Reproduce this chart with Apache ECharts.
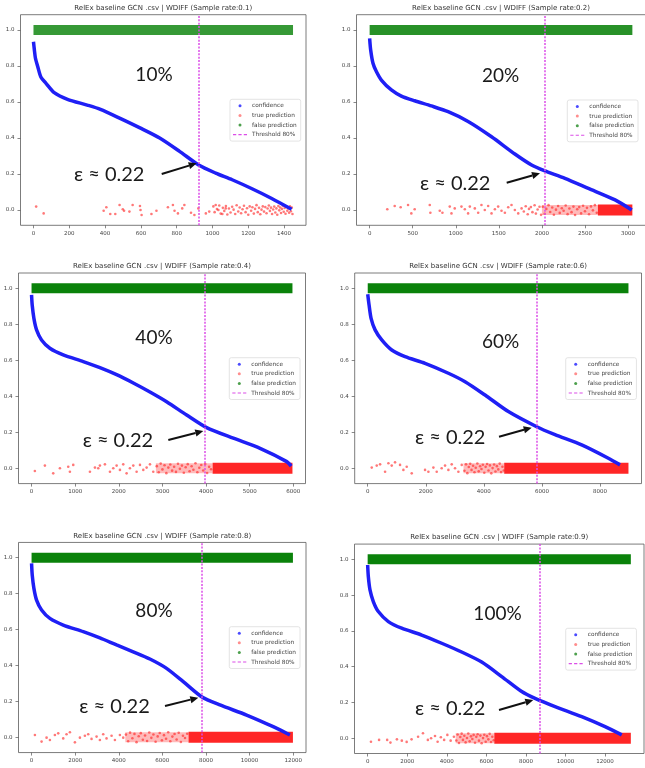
<!DOCTYPE html>
<html><head><meta charset="utf-8">
<script src="https://cdn.jsdelivr.net/npm/echarts@6/dist/echarts.min.js"></script>
<style>html,body{margin:0;padding:0;background:#fff}#c{width:645px;height:768px}</style>
</head><body><div id="c"></div><script>
// ---------------- DATA ----------------
const titles = [
  'RelEx baseline GCN .csv | WDIFF (Sample rate:0.1)',
  'RelEx baseline GCN .csv | WDIFF (Sample rate:0.2)',
  'RelEx baseline GCN .csv | WDIFF (Sample rate:0.4)',
  'RelEx baseline GCN .csv | WDIFF (Sample rate:0.6)',
  'RelEx baseline GCN .csv | WDIFF (Sample rate:0.8)',
  'RelEx baseline GCN .csv | WDIFF (Sample rate:0.9)'
];
const sampleCounts = [1450, 3050, 5980, 8980, 11990, 13300];
const thresholds = [925, 2030, 3960, 5820, 7800, 8680];
const pctLabels = ['10%', '20%', '40%', '60%', '80%', '100%'];
const epsLabel = 'ε ≈ 0.22';
const legendNames = ['confidence', 'true prediction', 'false prediction', 'Threshold 80%'];
const xTicks = [
  [0, 200, 400, 600, 800, 1000, 1200, 1400],
  [0, 500, 1000, 1500, 2000, 2500, 3000],
  [0, 1000, 2000, 3000, 4000, 5000, 6000],
  [0, 2000, 4000, 6000, 8000],
  [0, 2000, 4000, 6000, 8000, 10000, 12000],
  [0, 2000, 4000, 6000, 8000, 10000, 12000, 14000]
];
const yTicks = [0, 0.2, 0.4, 0.6, 0.8, 1.0];

// confidence curves (sorted confidence vs index)
const conf10 = [[0,0.935],[5,0.889],[11,0.843],[24,0.796],[42,0.737],[70,0.704],[116,0.652],[190,0.615],[300,0.583],[374,0.559],[484,0.509],[595,0.456],[705,0.40],[816,0.326],[923,0.25],[1018,0.205],[1110,0.168],[1221,0.118],[1331,0.064],[1442,0.004]];
const conf20 = [[0,0.954],[12,0.889],[39,0.815],[78,0.769],[136,0.722],[252,0.667],[368,0.633],[523,0.607],[717,0.578],[911,0.546],[1143,0.492],[1415,0.407],[1686,0.311],[1880,0.25],[2027,0.219],[2267,0.176],[2539,0.12],[2849,0.056],[3043,0.0]];
const conf40 = [[0,0.963],[15,0.907],[54,0.833],[115,0.769],[229,0.713],[420,0.667],[726,0.63],[1185,0.593],[1567,0.559],[1950,0.52],[2332,0.474],[2714,0.424],[3096,0.37],[3555,0.296],[4014,0.226],[4625,0.167],[5237,0.111],[5849,0.037],[5950,0.012]];
const conf60 = [[0,0.967],[46,0.907],[115,0.833],[253,0.769],[482,0.713],[826,0.657],[1286,0.62],[1974,0.583],[2778,0.528],[3352,0.481],[4040,0.407],[4844,0.315],[5819,0.231],[6450,0.187],[7369,0.13],[8287,0.056],[8689,0.019]];
const conf80 = [[0,0.968],[31,0.903],[107,0.829],[229,0.764],[459,0.709],[841,0.662],[1453,0.625],[2370,0.588],[3134,0.553],[3899,0.514],[4663,0.476],[5428,0.436],[6192,0.384],[6957,0.31],[7798,0.226],[8639,0.18],[9862,0.124],[11085,0.059],[11850,0.013]];
const conf100 = [[0,0.968],[34,0.903],[118,0.829],[286,0.764],[539,0.708],[1045,0.652],[1719,0.615],[2730,0.577],[3741,0.531],[4752,0.482],[5763,0.426],[6774,0.345],[7785,0.261],[8459,0.223],[9470,0.177],[10818,0.121],[11997,0.065],[12840,0.019]];

// true predictions (individually visible points near 0)
const true10 = [[15,0.019],[57,-0.019],[392,-0.004],[407,0.015],[429,-0.022],[457,-0.022],[481,0.028],[499,0.004],[506,-0.004],[536,-0.009],[554,0.028],[595,0.022],[598,0],[604,-0.028],[659,-0.022],[687,-0.004],[751,0.015],[779,0.028],[788,-0.004],[807,-0.019],[831,0.009],[843,0.028],[880,-0.015],[899,-0.028],[921,0.009],[963,-0.019],[982,-0.009],
  [1005,0.02],[1012,-0.012],[1018,0.028],[1025,0.005],[1033,0],[1038,0.025],[1046,-0.02],[1055,-0.022],[1058,0.012],[1066,-0.005],[1074,0.009],[1075,0.022],[1083,-0.025],[1092,0.008],[1101,-0.014],[1110,0.018],[1118,0.002],[1127,-0.022],[1135,0.026],[1144,-0.008],[1152,0.014],[1160,-0.018],[1168,0.004],[1176,0.024],[1185,-0.012],[1193,0.01],[1200,-0.026],[1208,0.02],[1216,-0.004],[1223,0.015],[1231,-0.02],[1238,0.006],[1246,0.027],[1253,-0.012],[1260,0.012],[1267,-0.024],[1274,0.002],[1281,0.02],[1288,-0.009],[1295,0.016],[1302,-0.018],[1308,0.008],[1315,0.025],[1321,-0.005],[1327,0.013],[1333,-0.022],[1339,0.003],[1345,0.019],[1351,-0.014],[1357,0.009],[1362,-0.026],[1368,0.022],[1373,-0.002],[1378,0.014],[1383,-0.017],[1388,0.006],[1393,0.024],[1398,-0.01],[1403,0.011],[1408,-0.021],[1413,0.017],[1418,-0.004],[1423,0.008],[1428,-0.015],[1433,0.02],[1438,-0.007],[1443,0.013],[1447,-0.022]];
const true20 = [[205,0.004],[291,0.022],[360,0.015],[446,0.028],[484,-0.019],[523,0.004],[698,0.028],[705,-0.015],[814,-0.004],[845,-0.015],[930,0.019],[950,-0.019],[988,0.009],[1066,0.019],[1105,0.004],[1143,-0.019],[1163,0.019],[1221,0.009],[1260,-0.015],[1298,0.028],[1337,0],[1376,0.022],[1415,-0.019],[1454,0.004],[1492,0.019],[1531,-0.004],[1570,-0.015],[1609,0.015],[1647,0.028],[1686,0],[1725,-0.019],[1764,0.009],[1790,-0.008],[1812,0.021],[1835,-0.024],[1850,0.006],[1872,0.016],[1890,-0.012],[1915,0.026],[1930,-0.02],[1950,0.003],[1972,0.018],[1990,-0.027],
  [2010,0.018],[2032,-0.021],[2051,0.006],[2077,0.027],[2096,-0.011],[2120,0.014],[2139,-0.026],[2163,0.002],[2188,0.022],[2207,-0.016],[2231,0.01],[2252,-0.004],[2276,0.025],[2298,-0.023],[2319,0.008],[2344,-0.012],[2366,0.019],[2385,-0.028],[2410,0.004],[2433,0.016],[2455,-0.019],[2478,0.024],[2500,-0.007],[2523,0.012],[2547,-0.024],[2570,0.02],[2592,-0.002],[2615,0.027],[2637,-0.015]];
const true40 = [[76,-0.015],[306,0.015],[497,-0.028],[650,0],[841,0.009],[879,-0.019],[956,0.019],[1338,-0.019],[1453,0.004],[1529,0],[1567,0.015],[1682,0.022],[1797,-0.019],[1873,0],[1950,0.015],[2026,-0.009],[2102,0.022],[2179,-0.028],[2255,0],[2332,0.015],[2408,-0.019],[2485,0.019],[2561,-0.009],[2638,0.004],[2714,0.022],[2790,-0.019],
  [2870,0.012],[2915,-0.022],[2960,0.026],[3000,-0.006],[3048,0.017],[3090,-0.027],[3135,0.004],[3180,0.021],[3222,-0.013],[3268,0.009],[3310,-0.02],[3356,0.025],[3400,-0.003],[3447,0.015],[3490,-0.025],[3533,0.006],[3580,0.023],[3622,-0.016],[3668,0.011],[3710,-0.008],[3757,0.028],[3800,-0.022],[3845,0.003],[3890,0.018],[3935,-0.012],[3980,0.024],[4025,-0.026],[4070,0.008],[4115,-0.005]];
const true60 = [[138,0.004],[310,0.015],[425,0.022],[597,-0.019],[712,0.028],[826,0.015],[941,0.033],[1113,0.019],[1228,-0.009],[1343,0.009],[1515,-0.028],[1974,-0.009],[2089,-0.019],[2261,0.004],[2376,-0.019],[2547,0],[2663,0.015],[2778,-0.009],[2892,0.022],[3007,0],[3122,-0.019],[3237,0.019],
  [3330,-0.014],[3385,0.022],[3430,-0.027],[3480,0.007],[3530,0.025],[3575,-0.009],[3628,0.014],[3676,-0.022],[3720,0.003],[3775,0.027],[3822,-0.017],[3870,0.011],[3918,-0.004],[3965,0.02],[4015,-0.025],[4060,0.008],[4112,0.024],[4160,-0.012],[4208,0.016],[4255,-0.028],[4300,0.001],[4352,0.021],[4400,-0.018],[4448,0.012],[4497,-0.006],[4545,0.026],[4592,-0.021],[4640,0.009],[4685,-0.012]];
const true80 = [[153,0.013],[459,-0.024],[688,-0.002],[841,-0.015],[1070,0.013],[1223,0.022],[1453,-0.006],[1605,0.017],[1758,0.028],[1988,-0.028],[2217,-0.002],[2446,0.009],[2599,0.017],[2752,-0.009],[2982,0.004],[3134,-0.015],[3287,0.017],[3440,-0.006],[3670,0.009],[3823,-0.015],[4052,0.013],[4205,-0.002],
  [4330,0.015],[4430,-0.022],[4520,0.026],[4625,-0.005],[4720,0.019],[4815,-0.027],[4915,0.006],[5010,0.023],[5105,-0.014],[5205,0.01],[5300,-0.021],[5400,0.027],[5495,-0.003],[5590,0.016],[5690,-0.025],[5785,0.005],[5880,0.024],[5980,-0.017],[6075,0.012],[6170,-0.008],[6270,0.028],[6365,-0.022],[6460,0.004],[6560,0.018],[6655,-0.012],[6750,0.025],[6850,-0.026],[6945,0.009],[7040,-0.004],[7140,0.02]];
const true100 = [[167,-0.019],[577,-0.009],[986,-0.009],[1152,-0.024],[1479,-0.006],[1726,-0.013],[1972,-0.02],[2219,-0.006],[2549,0.009],[2795,0.028],[3042,-0.009],[3206,0],[3403,0.013],[3535,-0.019],[3700,0.006],[3865,-0.009],[4028,0.019],[4193,-0.013],[4358,0.009],
  [4480,-0.012],[4545,0.021],[4615,-0.026],[4680,0.007],[4750,0.026],[4815,-0.009],[4885,0.014],[4950,-0.023],[5020,0.002],[5085,0.027],[5155,-0.017],[5220,0.011],[5290,-0.004],[5355,0.019],[5425,-0.025],[5490,0.008],[5560,0.023],[5625,-0.013],[5695,0.015],[5760,-0.028],[5830,0.001],[5895,0.02],[5965,-0.019],[6030,0.012],[6100,-0.006],[6165,0.025],[6235,-0.021],[6300,0.009],[6370,-0.011]];
// index ranges where true predictions overlap: [start of medium density, start of solid, end] (null = none)
const trueDense = [null, [2000, 2650, 3050], [2850, 4150, 5980], [3300, 4700, 8980], [4300, 7200, 11990], [4450, 6400, 13300]];
// false predictions cover the whole index range around 1.0
const falseRange = [[0,1450],[0,3050],[0,5980],[0,8980],[0,11990],[0,13300]];

const confData = [conf10, conf20, conf40, conf60, conf80, conf100];
const trueData = [true10, true20, true40, true60, true80, true100];

// ---------------- LAYOUT ----------------
const panels = [
  {left:20.5, right:306,   y1:30,    y0:210,   leg:[230,99.3],   pct:[154,75],    eps:[74,175],    arr:[[161.7,174],[196.7,163.3]]},
  {left:356.5,right:645.5, y1:30,    y0:210,   leg:[567.3,100],  pct:[500.7,76],  eps:[420,184],   arr:[[506.7,182.7],[540,173.3]]},
  {left:18.5, right:305.5, y1:288.3, y0:468.3, leg:[229.3,357.7],pct:[154,338.3], eps:[82.7,441],  arr:[[168.3,440],[203.3,431]]},
  {left:354.7,right:641.5, y1:288.3, y0:468.3, leg:[565.7,357.7],pct:[500.7,342.3],eps:[415,437.7],arr:[[499,436.7],[531.7,427.7]]},
  {left:18.5, right:306,   y1:557.7, y0:737.3, leg:[229.3,626.7],pct:[154,611],   eps:[79.3,706.7],arr:[[165,706],[198.3,697.7]]},
  {left:354.5,right:644,   y1:559.3, y0:738.3, leg:[565.7,628.3],pct:[497.5,614.3],eps:[415,709], arr:[[499,710],[533.3,700]]}
];
const Y_PAD = 0.085, X_PAD = 0.05;
const BLUE = '#1f1ff5', RED = '#ff1a1a', GREEN = '#0a820a', MAG = '#dc4ee8';
const greenOpacity = [0.82, 0.88, 1, 1, 1, 1];
const FONT = "'DejaVu Sans', sans-serif";
const BIG = "Lato, 'Noto Sans', sans-serif";

const grids = [], xAxes = [], yAxes = [], series = [], legends = [], titleArr = [], graphics = [];

panels.forEach((p, i) => {
  const N = sampleCounts[i];
  const span = p.y0 - p.y1;
  const top = p.y1 - Y_PAD * span;
  const height = (1 + 2 * Y_PAD) * span;
  grids.push({left:p.left, top:top, width:p.right - p.left, height:height, show:true,
    borderColor:'#5a5a5a', borderWidth:0.8, backgroundColor:'#fff', containLabel:false, outerBoundsMode:'none'});
  xAxes.push({type:'value', gridIndex:i, min:-X_PAD * N, max:(1 + X_PAD) * N,
    axisLine:{show:false, onZero:false}, splitLine:{show:false},
    axisTick:{show:true, length:3, lineStyle:{color:'#555', width:0.7}, customValues:xTicks[i]},
    axisLabel:{customValues:xTicks[i], fontSize:5.5, color:'#444', margin:5, fontFamily:FONT,
      formatter:v => String(Math.round(v))}});
  yAxes.push({type:'value', gridIndex:i, min:-Y_PAD, max:1 + Y_PAD,
    axisLine:{show:false, onZero:false}, splitLine:{show:false},
    axisTick:{show:true, length:3, lineStyle:{color:'#555', width:0.7}, customValues:yTicks},
    axisLabel:{customValues:yTicks, fontSize:5.5, color:'#444', margin:6, fontFamily:FONT,
      formatter:v => Number(v).toFixed(1)}});

  // false predictions band around 1.0
  series.push({type:'line', name:'false prediction', xAxisIndex:i, yAxisIndex:i, silent:true, z:2,
    data:falseRange[i].map(x => [x, 1]), symbol:'none',
    lineStyle:{color:GREEN, width:10, cap:'butt', opacity:greenOpacity[i]}, itemStyle:{color:GREEN}});
  // dense parts of true predictions around 0.0
  const d = trueDense[i];
  if (d) {
    series.push({type:'line', name:'true prediction', xAxisIndex:i, yAxisIndex:i, silent:true, z:2,
      data:[[d[0],0],[d[1],0]], symbol:'none', lineStyle:{color:RED, width:10, cap:'butt', opacity:0.3}, itemStyle:{color:RED}});
    series.push({type:'line', name:'true prediction', xAxisIndex:i, yAxisIndex:i, silent:true, z:2,
      data:[[d[1],0],[d[2],0]], symbol:'none', lineStyle:{color:RED, width:11, cap:'butt', opacity:0.95}, itemStyle:{color:RED}});
  }
  series.push({type:'scatter', name:'true prediction', xAxisIndex:i, yAxisIndex:i, silent:true, z:3,
    data:trueData[i], symbolSize:2.6, itemStyle:{color:'rgba(255,30,30,0.75)'}});
  // confidence curve
  series.push({type:'line', name:'confidence', xAxisIndex:i, yAxisIndex:i, silent:true, z:4,
    data:confData[i], symbol:'none', smooth:0.25, lineStyle:{color:BLUE, width:3.5}, itemStyle:{color:BLUE}});
  // threshold
  series.push({type:'line', name:'Threshold 80%', xAxisIndex:i, yAxisIndex:i, silent:true, z:5,
    data:[], itemStyle:{color:MAG}, lineStyle:{color:MAG},
    markLine:{silent:true, symbol:'none', label:{show:false}, animation:false,
      lineStyle:{color:MAG, type:[2,1.4], width:1.5}, data:[{xAxis:thresholds[i]}]}});

  legends.push({orient:'vertical', left:p.leg[0], top:p.leg[1], itemWidth:14, itemHeight:3, itemGap:2.6,
    padding:[3,4,3,3], backgroundColor:'rgba(255,255,255,0.85)', borderColor:'#d8d8d8', borderWidth:0.7, borderRadius:2,
    selectedMode:false, textStyle:{fontSize:5.8, color:'#444', fontFamily:FONT, lineHeight:7},
    data:[
      {name:legendNames[0], icon:'circle', itemStyle:{color:'#4a4aff'}},
      {name:legendNames[1], icon:'circle', itemStyle:{color:'#ff7070'}},
      {name:legendNames[2], icon:'circle', itemStyle:{color:'#4da04d'}},
      {name:legendNames[3], icon:'path://M0,0h3v1h-3z M5,0h3v1h-3z M10,0h3v1h-3z', itemStyle:{color:MAG}}
    ]});

  titleArr.push({text:titles[i], left:(p.left + p.right) / 2, top:top - 10, textAlign:'center', padding:0,
    textStyle:{fontSize:7, fontWeight:'normal', color:'#333', fontFamily:FONT}});

  graphics.push({type:'text', x:p.pct[0], y:p.pct[1], z:10,
    style:{text:pctLabels[i], fill:'#1a1a1a', fontSize:19, fontFamily:BIG, align:'center', verticalAlign:'middle'}});
  graphics.push({type:'text', x:p.eps[0], y:p.eps[1], z:10,
    style:{text:epsLabel, fill:'#1a1a1a', fontSize:20, fontFamily:BIG, align:'left', verticalAlign:'middle'}});
  // arrow
  const [t, h] = p.arr;
  const dx = h[0] - t[0], dy = h[1] - t[1], L = Math.hypot(dx, dy);
  const ux = dx / L, uy = dy / L, hl = 8, hw = 3.6;
  const bx = h[0] - ux * hl, by = h[1] - uy * hl;
  graphics.push({type:'line', z:10, shape:{x1:t[0], y1:t[1], x2:bx, y2:by}, style:{stroke:'#111', lineWidth:2}});
  graphics.push({type:'polygon', z:10, shape:{points:[[h[0],h[1]],[bx - uy*hw, by + ux*hw],[bx + uy*hw, by - ux*hw]]}, style:{fill:'#111'}});
});

const chart = echarts.init(document.getElementById('c'), null, {renderer:'canvas'});
chart.setOption({
  animation:false,
  backgroundColor:'#fff',
  title:titleArr,
  grid:grids, xAxis:xAxes, yAxis:yAxes,
  legend:legends,
  series:series,
  graphic:graphics
});
</script></body></html>
